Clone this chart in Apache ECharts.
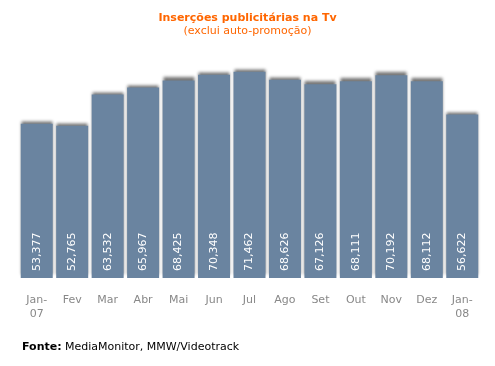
<!DOCTYPE html>
<html><head><meta charset="utf-8">
<script src="https://cdn.jsdelivr.net/npm/echarts@6/dist/echarts.min.js"></script>
<style>html,body{margin:0;padding:0;background:#fff}#c{width:495px;height:366px}</style>
</head><body><div id="c"></div>
<script>
const categories = ["Jan-\n07","Fev","Mar","Abr","Mai","Jun","Jul","Ago","Set","Out","Nov","Dez","Jan-\n08"];
const values = [53377,52765,63532,65967,68425,70348,71462,68626,67126,68111,70192,68112,56622];
const title = "Inserções publicitárias na Tv";
const subtitle = "(exclui auto-promoção)";
const fontF = "DejaVu Sans";
const chart = echarts.init(document.getElementById('c'), null, {renderer:'canvas'});
chart.setOption({
  animation:false,
  title:{text:title, subtext:subtitle, left:'center', top:8, itemGap:2,
    textStyle:{color:'#ff6600', fontSize:11, fontWeight:'bold', fontFamily:fontF},
    subtextStyle:{color:'#ff6600', fontSize:11, fontFamily:fontF}},
  graphic:[{type:'text', left:22, top:341, style:{rich:{b:{fontWeight:'bold',fontSize:11,fontFamily:fontF,fill:'#000'},n:{fontSize:11,fontFamily:fontF,fill:'#000'}}, text:'{b|Fonte:} {n|MediaMonitor, MMW/Videotrack}'}}],
  grid:{left:19, right:15, top:47, bottom:88, containLabel:false},
  xAxis:{type:'category', data:categories, axisLine:{show:false}, axisTick:{show:false},
    axisLabel:{color:'#888', fontSize:11, fontFamily:fontF, margin:15, lineHeight:14}},
  yAxis:{type:'value', min:0, max:80000, show:false, splitLine:{show:false}},
  series:[{type:'bar', data:values, barWidth:32,
    itemStyle:{color:'#6a84a0', shadowBlur:3, shadowColor:'rgba(0,0,0,0.55)', shadowOffsetY:-3},
    label:{show:true, position:'insideBottom', rotate:90, align:'left', verticalAlign:'middle', distance:7, color:'#fff', fontSize:11, fontFamily:fontF,
      formatter:p=>p.value.toLocaleString('en-US')}}]
});
</script></body></html>
